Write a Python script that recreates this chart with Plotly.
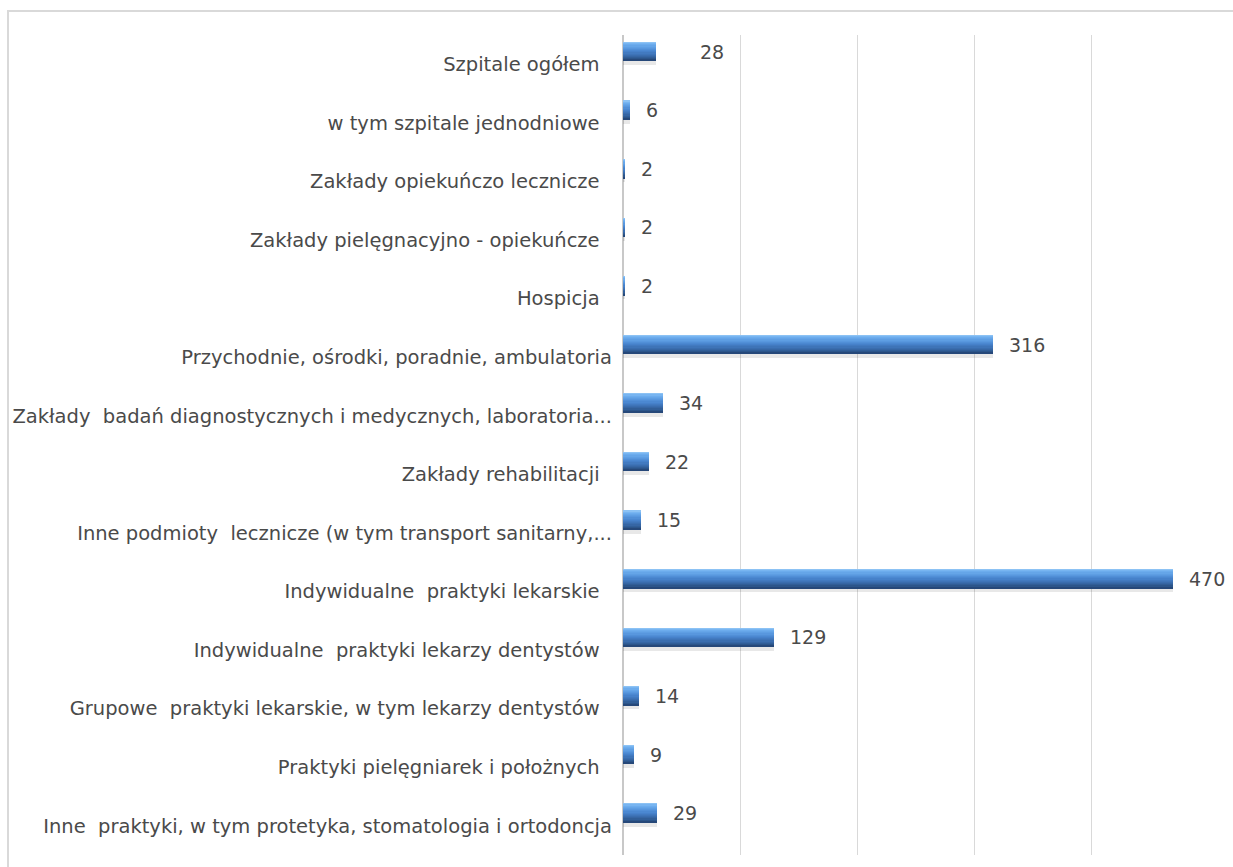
import plotly.graph_objects as go

categories = [
    "Szpitale ogółem  ",
    "w tym szpitale jednodniowe  ",
    "Zakłady opiekuńczo lecznicze  ",
    "Zakłady pielęgnacyjno - opiekuńcze  ",
    "Hospicja  ",
    "Przychodnie, ośrodki, poradnie, ambulatoria",
    "Zakłady  badań diagnostycznych i medycznych, laboratoria...",
    "Zakłady rehabilitacji  ",
    "Inne podmioty  lecznicze (w tym transport sanitarny,...",
    "Indywidualne  praktyki lekarskie  ",
    "Indywidualne  praktyki lekarzy dentystów  ",
    "Grupowe  praktyki lekarskie, w tym lekarzy dentystów  ",
    "Praktyki pielęgniarek i położnych  ",
    "Inne  praktyki, w tym protetyka, stomatologia i ortodoncja",
]
values = [28, 6, 2, 2, 2, 316, 34, 22, 15, 470, 129, 14, 9, 29]

W, H = 1233, 867
L, R, T, B = 623, 25, 35, 12
plot_w = W - L - R
plot_h = H - T - B

FONT = "DejaVu Sans"
TEXT = "#4a4a4a"

fig = go.Figure()

# bar geometry in category units: thickness and where its top edge sits
thick = 0.32
top = -0.375

# soft drop shadow under each bar
fig.add_trace(go.Bar(
    y=categories, x=values, orientation="h",
    offset=top + 0.05, width=thick + 0.02,
    marker=dict(color="rgba(0,0,0,0.09)", line=dict(width=0)),
    hoverinfo="skip", showlegend=False,
))

# vertical shading profile of a bar (fraction from top edge, colour)
stops = [
    (0.00, (150, 200, 245)),
    (0.12, (112, 176, 240)),
    (0.30, (92, 156, 226)),
    (0.50, (72, 132, 206)),
    (0.75, (56, 106, 170)),
    (0.90, (45, 86, 140)),
    (1.00, (35, 66, 112)),
]


def shade(f):
    for (f0, c0), (f1, c1) in zip(stops, stops[1:]):
        if f0 <= f <= f1:
            t = (f - f0) / (f1 - f0)
            r, g, b = (round(a + (b_ - a) * t) for a, b_ in zip(c0, c1))
            return f"rgb({r},{g},{b})"
    return "rgb(35,66,112)"


n_bands = 16
for k in range(n_bands):
    a = k / n_bands
    b = (k + 1) / n_bands
    fig.add_trace(go.Bar(
        y=categories, x=values, orientation="h",
        offset=top + a * thick, width=(b - a) * thick + 0.004,
        marker=dict(color=shade((a + b) / 2), line=dict(width=0)),
        hoverinfo="skip", showlegend=False,
    ))

# value labels to the right of each bar
px_per_cat = plot_h / len(categories)
center_shift = -(top + thick / 2) * px_per_cat
for i, (c, v) in enumerate(zip(categories, values)):
    fig.add_annotation(
        x=v, y=c, text=str(v), showarrow=False,
        xanchor="left", yanchor="middle",
        xshift=42 if i == 0 else 14, yshift=center_shift,
        font=dict(family=FONT, size=19, color=TEXT),
    )


# outer frame
def px_x(p):
    return (p - L) / plot_w


def px_y(p):
    return 1 - (p - T) / plot_h


fig.add_shape(
    type="rect", xref="paper", yref="paper",
    x0=px_x(8), x1=px_x(W + 10), y0=px_y(H + 10), y1=px_y(11),
    line=dict(color="#d9d9d9", width=2), fillcolor="rgba(0,0,0,0)",
    layer="below",
)

fig.update_layout(
    width=W, height=H,
    margin=dict(l=L, r=R, t=T, b=B, pad=0, autoexpand=False),
    paper_bgcolor="white", plot_bgcolor="white",
    barmode="overlay", bargap=0,
    font=dict(family=FONT, color=TEXT),
    showlegend=False,
    xaxis=dict(
        range=[0, 500], dtick=100, showticklabels=False,
        showgrid=True, gridcolor="#d9d9d9", gridwidth=1,
        zeroline=True, zerolinecolor="#c8c8c8", zerolinewidth=2,
        showline=False, fixedrange=True, automargin=False,
    ),
    yaxis=dict(
        autorange="reversed", type="category",
        showgrid=False, zeroline=False, showline=False,
        ticks="", ticklabelstandoff=10, automargin=False,
        tickfont=dict(family=FONT, size=19.5, color=TEXT),
        fixedrange=True,
    ),
)

fig.write_html("out.html")
